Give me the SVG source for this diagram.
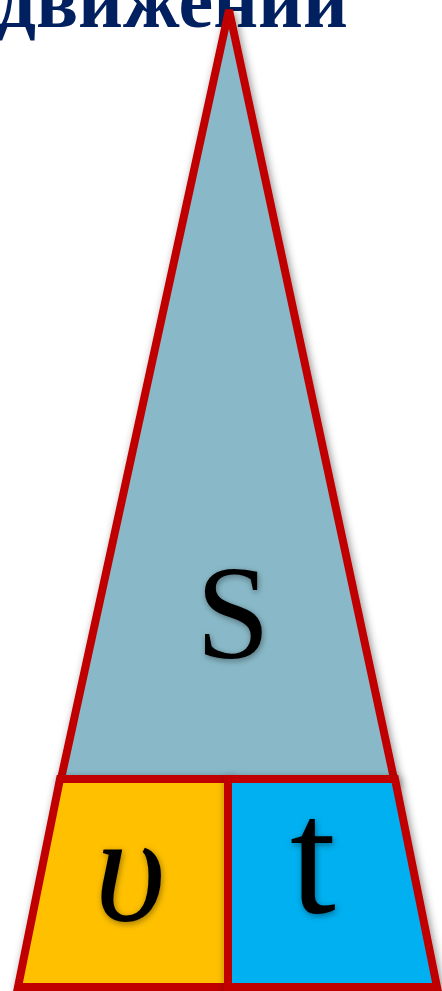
<svg xmlns="http://www.w3.org/2000/svg" width="442" height="991" viewBox="0 0 442 991">
  <defs>
    <filter id="sh" x="-20%" y="-20%" width="140%" height="140%">
      <feDropShadow dx="2" dy="3" stdDeviation="4" flood-color="#000" flood-opacity="0.45"/>
    </filter>
    <filter id="tsh" x="-30%" y="-30%" width="160%" height="160%">
      <feDropShadow dx="1" dy="2" stdDeviation="3" flood-color="#000" flood-opacity="0.4"/>
    </filter>
  </defs>
  <style>
    .edge { stroke: #C00000; stroke-width: 8; stroke-linejoin: miter; }
    .title { font-family: "Liberation Serif", "Times New Roman", serif; font-weight: bold; fill: #002060; }
    .sym { font-family: "Liberation Serif", "Times New Roman", serif; fill: #000; text-anchor: middle; }
  </style>
  <rect width="442" height="991" fill="#ffffff"/>
  <g id="title">
    <text class="title" x="348" y="27" font-size="78" text-anchor="end">движений</text>
  </g>
  <g id="triangle-s">
    <polygon class="edge" points="229,10 61,779 394,779" fill="#89B9C8" filter="url(#sh)"/>
    <text class="sym" x="233" y="658" font-size="133" filter="url(#tsh)">S</text>
  </g>
  <g id="quad-v">
    <polygon class="edge" points="60,779 228,779 228,987 18,987" fill="#FFC000" filter="url(#sh)"/>
    <text class="sym" x="130" y="920" font-size="155" font-style="italic" filter="url(#tsh)">υ</text>
  </g>
  <g id="quad-t">
    <polygon class="edge" points="228,779 395,779 437,987 228,987" fill="#00B0F0" filter="url(#sh)"/>
    <text class="sym" x="313" y="912" font-size="165" filter="url(#tsh)">t</text>
  </g>
</svg>
